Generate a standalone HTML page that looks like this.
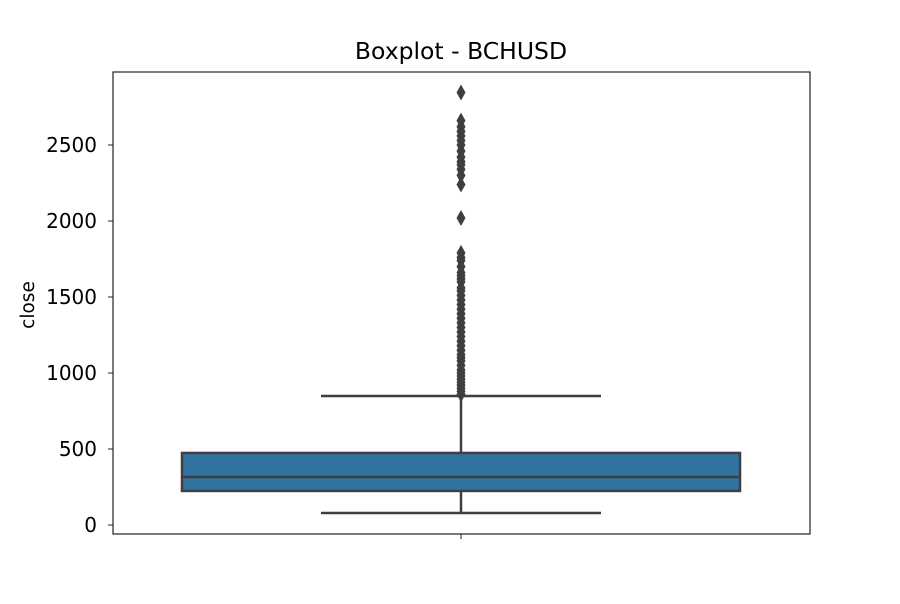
<!DOCTYPE html>
<html><head><meta charset="utf-8"><style>
body{margin:0;background:#fff;font-family:"DejaVu Sans","Liberation Sans",sans-serif}
</style></head><body>
<svg id="chart" width="900" height="600" xmlns="http://www.w3.org/2000/svg" font-family="DejaVu Sans, Liberation Sans, sans-serif">
<rect width="900" height="600" fill="#fff"/>
<text x="461" y="59" font-size="23.5" text-anchor="middle" fill="#000">Boxplot - BCHUSD</text>
<text x="34" y="305" font-size="18.5" text-anchor="middle" transform="rotate(-90 34 305)" fill="#000">close</text>
<g id="yticks"></g>
<g id="marks"></g>
<rect x="113" y="72" width="697" height="462" fill="none" stroke="#222" stroke-width="1.2"/>
<line x1="461" y1="534" x2="461" y2="539" stroke="#222" stroke-width="1"/>
</svg>
<script>
const yTicks=[0,500,1000,1500,2000,2500];
const stats={q1:224,median:316,q3:474,whiskerLow:79,whiskerHigh:849};
const outliers=[2845,2660,2620,2590,2560,2530,2500,2460,2420,2390,2370,2340,2300,2240,2020,1790,1760,1740,1700,1660,1640,1620,1600,1560,1540,1510,1480,1450,1420,1390,1360,1330,1300,1270,1240,1210,1180,1150,1120,1100,1080,1050,1020,1000,980,960,940,920,900,880,860];
const svg=document.getElementById('chart'),NS='http://www.w3.org/2000/svg';
const y=v=>525-0.152*v, cx=461;
function mk(t,a,p){const e=document.createElementNS(NS,t);for(const k in a)e.setAttribute(k,a[k]);p.appendChild(e);return e;}
const yt=document.getElementById('yticks'),m=document.getElementById('marks');
yTicks.forEach(v=>{
 const l=mk('line',{x1:108,x2:113,y1:y(v),y2:y(v),stroke:'#222'},yt);
 
 
 const t=mk('text',{x:97,y:y(v)+7,'font-size':'20','text-anchor':'end',fill:'#000'},yt);
 t.textContent=v;
 
 
});
const c='#3f3f3f';
let e=mk('line',{x1:cx,x2:cx,y1:y(stats.q3),y2:y(stats.whiskerHigh),stroke:c,'stroke-width':2.5},m);


e=mk('line',{x1:cx,x2:cx,y1:y(stats.q1),y2:y(stats.whiskerLow),stroke:c,'stroke-width':2.5},m);


e=mk('line',{x1:321,x2:601,y1:y(stats.whiskerHigh),y2:y(stats.whiskerHigh),stroke:c,'stroke-width':2.5},m);


e=mk('line',{x1:321,x2:601,y1:y(stats.whiskerLow),y2:y(stats.whiskerLow),stroke:c,'stroke-width':2.5},m);


e=mk('rect',{x:182,width:558,y:y(stats.q3),height:y(stats.q1)-y(stats.q3),fill:'#3274a1',stroke:c,'stroke-width':2.5},m);


e=mk('line',{x1:182,x2:740,y1:y(stats.median),y2:y(stats.median),stroke:c,'stroke-width':2.5},m);


outliers.forEach(v=>{
 const yy=y(v);
 const p=mk('polygon',{points:`${cx},${yy-8} ${cx+4.5},${yy} ${cx},${yy+8} ${cx-4.5},${yy}`,fill:c},m);
 
 
});
</script>
</body></html>
